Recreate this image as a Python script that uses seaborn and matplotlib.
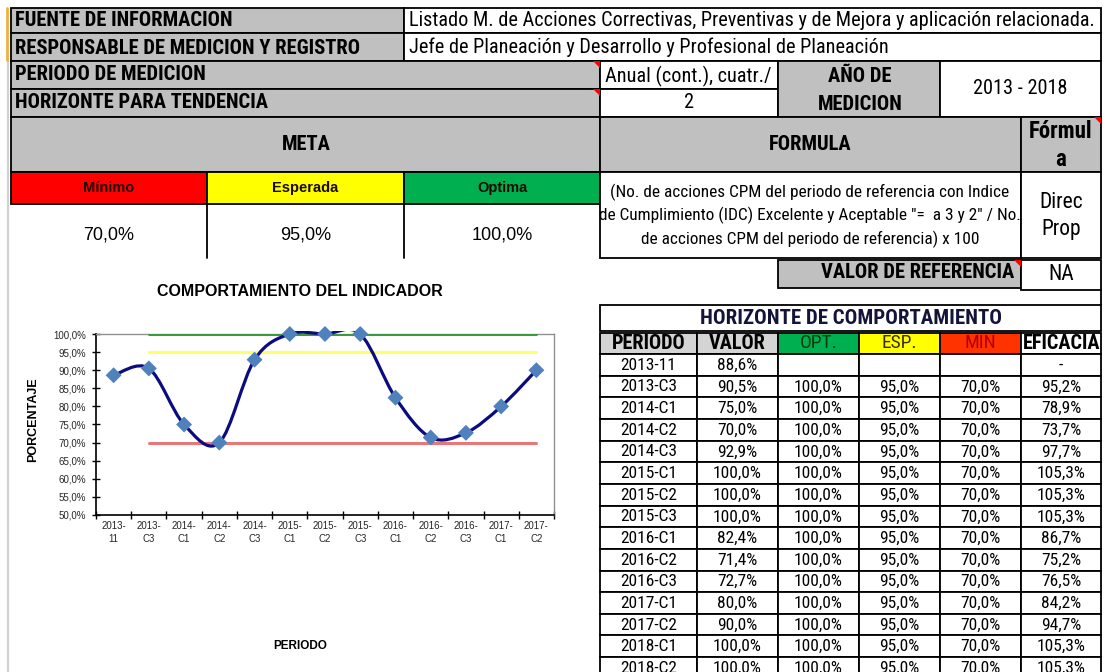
import numpy as np
import pandas as pd
import matplotlib
matplotlib.use("Agg")
import matplotlib.pyplot as plt
from matplotlib.patches import Rectangle, Polygon, PathPatch
from matplotlib.path import Path
import seaborn as sns

# ---------------- data ----------------
CHART_PERIODS = ["2013-\n11", "2013-\nC3", "2014-\nC1", "2014-\nC2", "2014-\nC3", "2015-\nC1",
                 "2015-\nC2", "2015-\nC3", "2016-\nC1", "2016-\nC2", "2016-\nC3", "2017-\nC1", "2017-\nC2"]
CHART_VALUES = [88.6, 90.5, 75.0, 70.0, 92.9, 100.0, 100.0, 100.0, 82.4, 71.4, 72.7, 80.0, 90.0]
CHART_OPT = [np.nan] + [100.0] * 12
CHART_ESP = [np.nan] + [95.0] * 12
CHART_MIN = [np.nan] + [70.0] * 12

TABLE_PERIODS = ["2013-11", "2013-C3", "2014-C1", "2014-C2", "2014-C3", "2015-C1", "2015-C2",
                 "2015-C3", "2016-C1", "2016-C2", "2016-C3", "2017-C1", "2017-C2", "2018-C1", "2018-C2"]
TABLE_VALOR = ["88,6%", "90,5%", "75,0%", "70,0%", "92,9%", "100,0%", "100,0%", "100,0%",
               "82,4%", "71,4%", "72,7%", "80,0%", "90,0%", "100,0%", "100,0%"]
TABLE_OPT = [""] + ["100,0%"] * 14
TABLE_ESP = [""] + ["95,0%"] * 14
TABLE_MIN = [""] + ["70,0%"] * 14
TABLE_EFIC = ["-", "95,2%", "78,9%", "73,7%", "97,7%", "105,3%", "105,3%", "105,3%",
              "86,7%", "75,2%", "76,5%", "84,2%", "94,7%", "105,3%", "105,3%"]

META_LABELS = ["Mínimo", "Esperada", "Optima"]
META_VALUES = ["70,0%", "95,0%", "100,0%"]

# ---------------- style ----------------
sns.set_theme(style="white")
NARROW = ["Roboto Condensed", "PT Sans Narrow", "Archivo Narrow", "IBM Plex Sans Condensed",
          "Liberation Sans", "DejaVu Sans"]
ARIAL = ["Liberation Sans", "DejaVu Sans"]
plt.rcParams["font.family"] = ARIAL

GRAY = "#c0c0c0"
RED = "#ff0000"
YEL = "#ffff00"
GRN = "#00b050"

fig = plt.figure(figsize=(11.05, 6.72), dpi=100)
bg = fig.add_axes([0, 0, 1, 1])
bg.set_xlim(0, 1105)
bg.set_ylim(672, 0)
bg.axis("off")

LW = 1.3
HB = 14.8   # bold header size
TV = 14.6   # value text size


def cell(x0, y0, x1, y1, fc="white", ec="black", lw=LW, z=1):
    bg.add_patch(Rectangle((x0, y0), x1 - x0, y1 - y0, facecolor=fc, edgecolor=ec, lw=lw, zorder=z))


def txt(x, y, s, size=13, bold=False, ha="center", family=NARROW, color="black", **kw):
    bg.text(x, y, s, fontsize=size, fontweight="bold" if bold else "normal", ha=ha, va="center",
            family=family, color=color, zorder=5, **kw)


def tri(x, y, s=7):
    bg.add_patch(Polygon([(x - s, y), (x, y), (x, y + s)], closed=True, facecolor="#ff0000",
                         edgecolor="none", zorder=6))


# spreadsheet left gutter
bg.plot([8, 8], [60, 672], color="#d0d0d0", lw=1.5, zorder=0)
bg.plot([7, 7], [8, 60], color="#f0b040", lw=2, zorder=0)

# rows 1-2
cell(11, 8, 404, 33, GRAY)
cell(404, 8, 1101, 33)
txt(15, 20.5, "FUENTE DE INFORMACION", HB, True, "left")
txt(409, 20.5, "Listado M. de Acciones Correctivas, Preventivas y de Mejora y aplicación relacionada.", TV, False, "left")
cell(11, 33, 404, 61, GRAY)
cell(404, 33, 1101, 61)
txt(15, 48, "RESPONSABLE DE MEDICION Y REGISTRO", HB, True, "left")
txt(409, 47, "Jefe de Planeación y Desarrollo y Profesional de Planeación", TV, False, "left")

# rows 3-4
cell(11, 61, 600, 89, GRAY)
cell(11, 89, 600, 117, GRAY)
txt(15, 75, "PERIODO DE MEDICION", HB, True, "left")
txt(15, 103, "HORIZONTE PARA TENDENCIA", HB, True, "left")
tri(600, 61)
tri(600, 89)
cell(600, 61, 778, 89)
cell(600, 89, 778, 117)
txt(605, 76, "Anual (cont.), cuatr./", 14.6, False, "left")
txt(689, 102, "2", TV)
cell(778, 61, 940, 117, GRAY)
txt(860, 77, "AÑO DE", HB, True)
txt(860, 104, "MEDICION", HB, True)
cell(940, 61, 1101, 117)
txt(1020, 89, "2013 - 2018", TV)

# META / FORMULA header
cell(11, 117, 600, 172, GRAY)
txt(306, 144, "META", HB, True)
cell(600, 117, 1021, 172, GRAY)
txt(810, 144, "FORMULA", HB, True)
cell(1021, 117, 1101, 172, GRAY)
txt(1061, 132, "Fórmul", 16.5, True)
txt(1061, 159, "a", 16.5, True)
tri(1101, 117)

meta_cols = [(11, 207, RED), (207, 404, YEL), (404, 600, GRN)]
for (x0, x1, c), lab, val in zip(meta_cols, META_LABELS, META_VALUES):
    cell(x0, 172, x1, 204, c)
    txt((x0 + x1) / 2, 188, lab, 10.5, True, family=ARIAL, color="#1a0a00")
    txt((x0 + x1) / 2, 235, val, 13, family=ARIAL)
for xv in (207, 404):
    bg.plot([xv, xv], [204, 258], color="black", lw=LW, zorder=2)

cell(600, 172, 1021, 258)
formula = ["(No. de acciones CPM del periodo de referencia con Indice",
           "de Cumplimiento (IDC) Excelente y Aceptable \"=  a 3 y 2\" / No.",
           "de acciones CPM del periodo de referencia) x 100"]
for i, line in enumerate(formula):
    txt(810, 192 + i * 23.5, line, 12.4, family=NARROW)
cell(1021, 172, 1101, 258)
txt(1061, 203, "Direc", 15.5)
txt(1061, 230, "Prop", 15.5)

cell(778, 260, 1021, 288, GRAY)
txt(1014, 273, "VALOR DE REFERENCIA", HB, True, "right")
tri(1021, 260)
cell(1021, 260, 1101, 290)
txt(1061, 275, "NA", 15.5)
bg.plot([1101, 1101], [290, 305], color="black", lw=LW)

# ---------------- table ----------------
COLS = [600, 697, 778, 859, 940, 1021, 1101]
cell(600, 305, 1101, 331)
txt(851, 318, "HORIZONTE DE COMPORTAMIENTO", 15, True, color="#14143a")
heads = ["PERIODO", "VALOR", "OPT.", "ESP.", "MIN", "EFICACIA"]
hfc = ["#d4d4d4", "#d4d4d4", GRN, YEL, "#ff3300", "white"]
hcol = ["black", "black", "#0a3a0a", "#3a2a00", "#b00000", "black"]
hbold = [True, True, False, False, False, True]
hsize = [14.6, 14.6, 14, 14, 14, 14.6]
hx = [(COLS[j] + COLS[j + 1]) / 2 for j in range(6)]
hx[5] = 1062
for j in range(6):
    cell(COLS[j], 333, COLS[j + 1], 354, hfc[j])
    txt(hx[j], 343.5, heads[j], hsize[j], hbold[j], color=hcol[j])

ROW_H = 21.65
for i in range(len(TABLE_PERIODS)):
    y0 = 354 + i * ROW_H
    vals = [TABLE_PERIODS[i], TABLE_VALOR[i], TABLE_OPT[i], TABLE_ESP[i], TABLE_MIN[i], TABLE_EFIC[i]]
    for j in range(6):
        cell(COLS[j], y0, COLS[j + 1], y0 + ROW_H)
        txt((COLS[j] + COLS[j + 1]) / 2, y0 + ROW_H / 2 + 0.5, vals[j], 12.5)

# ---------------- chart ----------------
AX_L, AX_R, AX_T, AX_B = 96, 554, 334, 515
ax = fig.add_axes([AX_L / 1105, 1 - AX_B / 672, (AX_R - AX_L) / 1105, (AX_B - AX_T) / 672])
ax.set_facecolor("white")

n = len(CHART_VALUES)
idx = np.arange(n)
ref = pd.DataFrame({
    "idx": np.concatenate([idx, idx, idx]),
    "val": CHART_OPT + CHART_ESP + CHART_MIN,
    "serie": ["OPT"] * n + ["ESP"] * n + ["MIN"] * n,
})
sns.lineplot(data=ref, x="idx", y="val", hue="serie",
             palette={"OPT": "#3c9a3c", "ESP": "#ffff66", "MIN": "#e87878"},
             linewidth=2.2, legend=False, ax=ax, zorder=2.6)

# smoothed line through the values (Catmull-Rom as Bezier)
pts = np.column_stack([idx, CHART_VALUES]).astype(float)
verts = [tuple(pts[0])]
codes = [Path.MOVETO]
for i in range(n - 1):
    p0 = pts[max(i - 1, 0)]
    p1 = pts[i]
    p2 = pts[i + 1]
    p3 = pts[min(i + 2, n - 1)]
    c1 = p1 + (p2 - p0) / 6.0
    c2 = p2 - (p3 - p1) / 6.0
    verts += [tuple(c1), tuple(c2), tuple(p2)]
    codes += [Path.CURVE4] * 3
curve = PathPatch(Path(verts, codes), facecolor="none", edgecolor="#0c0c80", lw=2.3, zorder=3)
ax.add_patch(curve)
curve.set_clip_path(Rectangle((-1, 40), n + 2, 60.8, transform=ax.transData))

sns.scatterplot(x=idx, y=CHART_VALUES, marker="D", s=66, color="#4f81bd", edgecolor="none",
                ax=ax, zorder=4, clip_on=False)

ax.set_xlim(-0.5, n - 0.5)
ax.set_ylim(50, 100)
ax.set_xlabel("")
ax.set_ylabel("")
ax.set_xticks(np.arange(-0.5, n, 1.0))
ax.set_xticklabels([])
ax.set_xticks(idx, minor=True)
ax.set_xticklabels(CHART_PERIODS, minor=True, fontsize=7, linespacing=1.4)
ax.tick_params(axis="x", which="major", direction="inout", length=6, width=1, color="black", bottom=True)
ax.tick_params(axis="x", which="minor", length=0, pad=4, bottom=True)
yt = np.arange(50, 101, 5)
ax.set_yticks(yt)
ax.set_yticklabels([f"{v:.1f}%".replace(".", ",") for v in yt], fontsize=7)
ax.tick_params(axis="y", direction="inout", length=6, width=1, color="black", left=True, pad=4)
for s in ("left", "bottom"):
    ax.spines[s].set_color("black")
    ax.spines[s].set_linewidth(1.2)
for s in ("top", "right"):
    ax.spines[s].set_color("#909090")
    ax.spines[s].set_linewidth(1.0)
ax.grid(False)

txt(300, 292, "COMPORTAMIENTO DEL INDICADOR", 11.5, True, family=ARIAL)
txt(33, 420, "PORCENTAJE", 9, True, family=ARIAL, rotation=90)
txt(300, 646, "PERIODO", 8.5, True, family=ARIAL)

fig.savefig("out.png", dpi=100)
